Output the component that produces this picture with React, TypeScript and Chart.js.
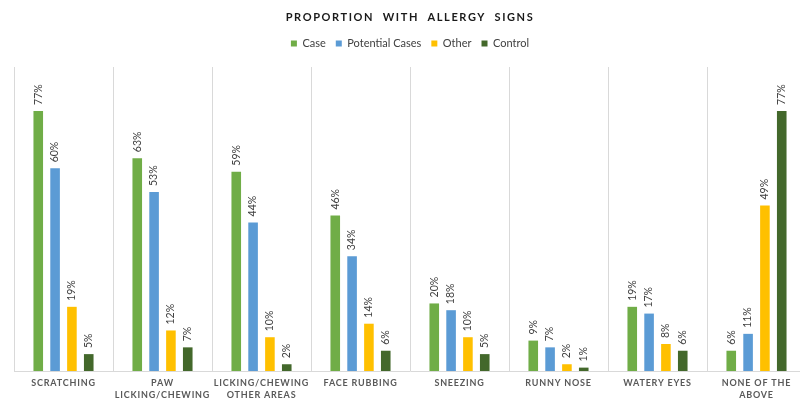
import React, { useEffect, useRef } from "react";
import { Chart, registerables } from "chart.js";

Chart.register(...registerables);

// Categories (multi-line tick labels)
const categories: string[][] = [
  ["SCRATCHING"],
  ["PAW", "LICKING/CHEWING"],
  ["LICKING/CHEWING", "OTHER AREAS"],
  ["FACE RUBBING"],
  ["SNEEZING"],
  ["RUNNY NOSE"],
  ["WATERY EYES"],
  ["NONE OF THE", "ABOVE"],
];

// Percent of each group showing each sign
const caseValues = [77, 63, 59, 46, 20, 9, 19, 6];
const potentialValues = [60, 53, 44, 34, 18, 7, 17, 11];
const otherValues = [19, 12, 10, 14, 10, 2, 8, 49];
const controlValues = [5, 7, 2, 6, 5, 1, 6, 77];

const seriesNames = ["Case", "Potential Cases", "Other", "Control"];
const seriesColors = ["#70AD47", "#5B9BD5", "#FFC000", "#43682B"];

const TITLE = "PROPORTION WITH ALLERGY SIGNS";
const FONT = "Lato, 'Open Sans', sans-serif";

// Draws rotated value labels above the bars, then turns on letter spacing
// for the category labels (drawn on a layer after the datasets), and
// finally draws the spaced-out chart title.
const decorations = {
  id: "decorations",
  beforeInit(chart: any) {
    const legend = chart.legend;
    if (legend) {
      const fit = legend.fit;
      legend.fit = function () {
        fit.call(this);
        this.height += 8;
      };
    }
  },
  afterDatasetsDraw(chart: any) {
    const ctx = chart.ctx as CanvasRenderingContext2D & { letterSpacing?: string };
    ctx.save();
    ctx.letterSpacing = "0px";
    ctx.font = `10.5px ${FONT}`;
    ctx.fillStyle = "#404040";
    ctx.textAlign = "left";
    ctx.textBaseline = "middle";
    chart.data.datasets.forEach((ds: any, di: number) => {
      const meta = chart.getDatasetMeta(di);
      meta.data.forEach((bar: any, i: number) => {
        ctx.save();
        ctx.translate(bar.x, bar.y - 6);
        ctx.rotate(-Math.PI / 2);
        ctx.fillText(`${ds.data[i]}%`, 0, 0);
        ctx.restore();
      });
    });
    ctx.restore();
    ctx.letterSpacing = "0.8px";
  },
  afterDraw(chart: any) {
    const ctx = chart.ctx as CanvasRenderingContext2D & { letterSpacing?: string };
    ctx.save();
    ctx.letterSpacing = "1.6px";
    ctx.font = `bold 11px ${FONT}`;
    ctx.fillStyle = "#1a1a1a";
    ctx.textAlign = "center";
    ctx.textBaseline = "middle";
    const words = TITLE.split(" ");
    // wider gaps between words
    ctx.fillText(words.join("  "), (chart.chartArea.left + chart.chartArea.right) / 2, 17);
    ctx.restore();
    ctx.letterSpacing = "0px";
  },
};

export default function App() {
  const canvasRef = useRef<HTMLCanvasElement | null>(null);

  useEffect(() => {
    const canvas = canvasRef.current;
    if (!canvas) return;
    const values = [caseValues, potentialValues, otherValues, controlValues];
    const chart = new Chart(canvas, {
      type: "bar",
      data: {
        labels: categories,
        datasets: values.map((data, i) => ({
          label: seriesNames[i],
          data,
          backgroundColor: seriesColors[i],
          borderWidth: 0,
          categoryPercentage: 0.68,
          barPercentage: 0.57,
        })),
      },
      options: {
        animation: false,
        responsive: false,
        maintainAspectRatio: false,
        layout: { padding: { top: 28, left: 14, right: 14, bottom: 0 } },
        plugins: {
          title: { display: false },
          tooltip: { enabled: false },
          legend: {
            position: "top",
            labels: {
              boxWidth: 6,
              boxHeight: 6,
              padding: 10,
              color: "#404040",
              font: { family: FONT, size: 11 },
            },
          },
        },
        scales: {
          x: {
            offset: true,
            grid: {
              display: true,
              offset: true,
              color: "#d9d9d9",
              drawTicks: false,
            },
            border: { display: true, color: "#d9d9d9" },
            ticks: {
              z: 1,
              autoSkip: false,
              maxRotation: 0,
              minRotation: 0,
              padding: 6,
              color: "#595959",
              font: { family: FONT, size: 9, weight: "bold", lineHeight: 1.33 },
            },
            afterFit(scale: any) {
              scale.height = 28;
            },
          },
          y: {
            display: false,
            min: 0,
            max: 90,
          },
        },
      },
      plugins: [decorations],
    });
    return () => chart.destroy();
  }, []);

  return (
    <div
      style={{
        position: "fixed",
        left: 0,
        top: 0,
        width: 800,
        height: 399,
        overflow: "hidden",
        background: "#ffffff",
      }}
    >
      <canvas ref={canvasRef} width={820} height={399} style={{ display: "block" }} />
    </div>
  );
}
